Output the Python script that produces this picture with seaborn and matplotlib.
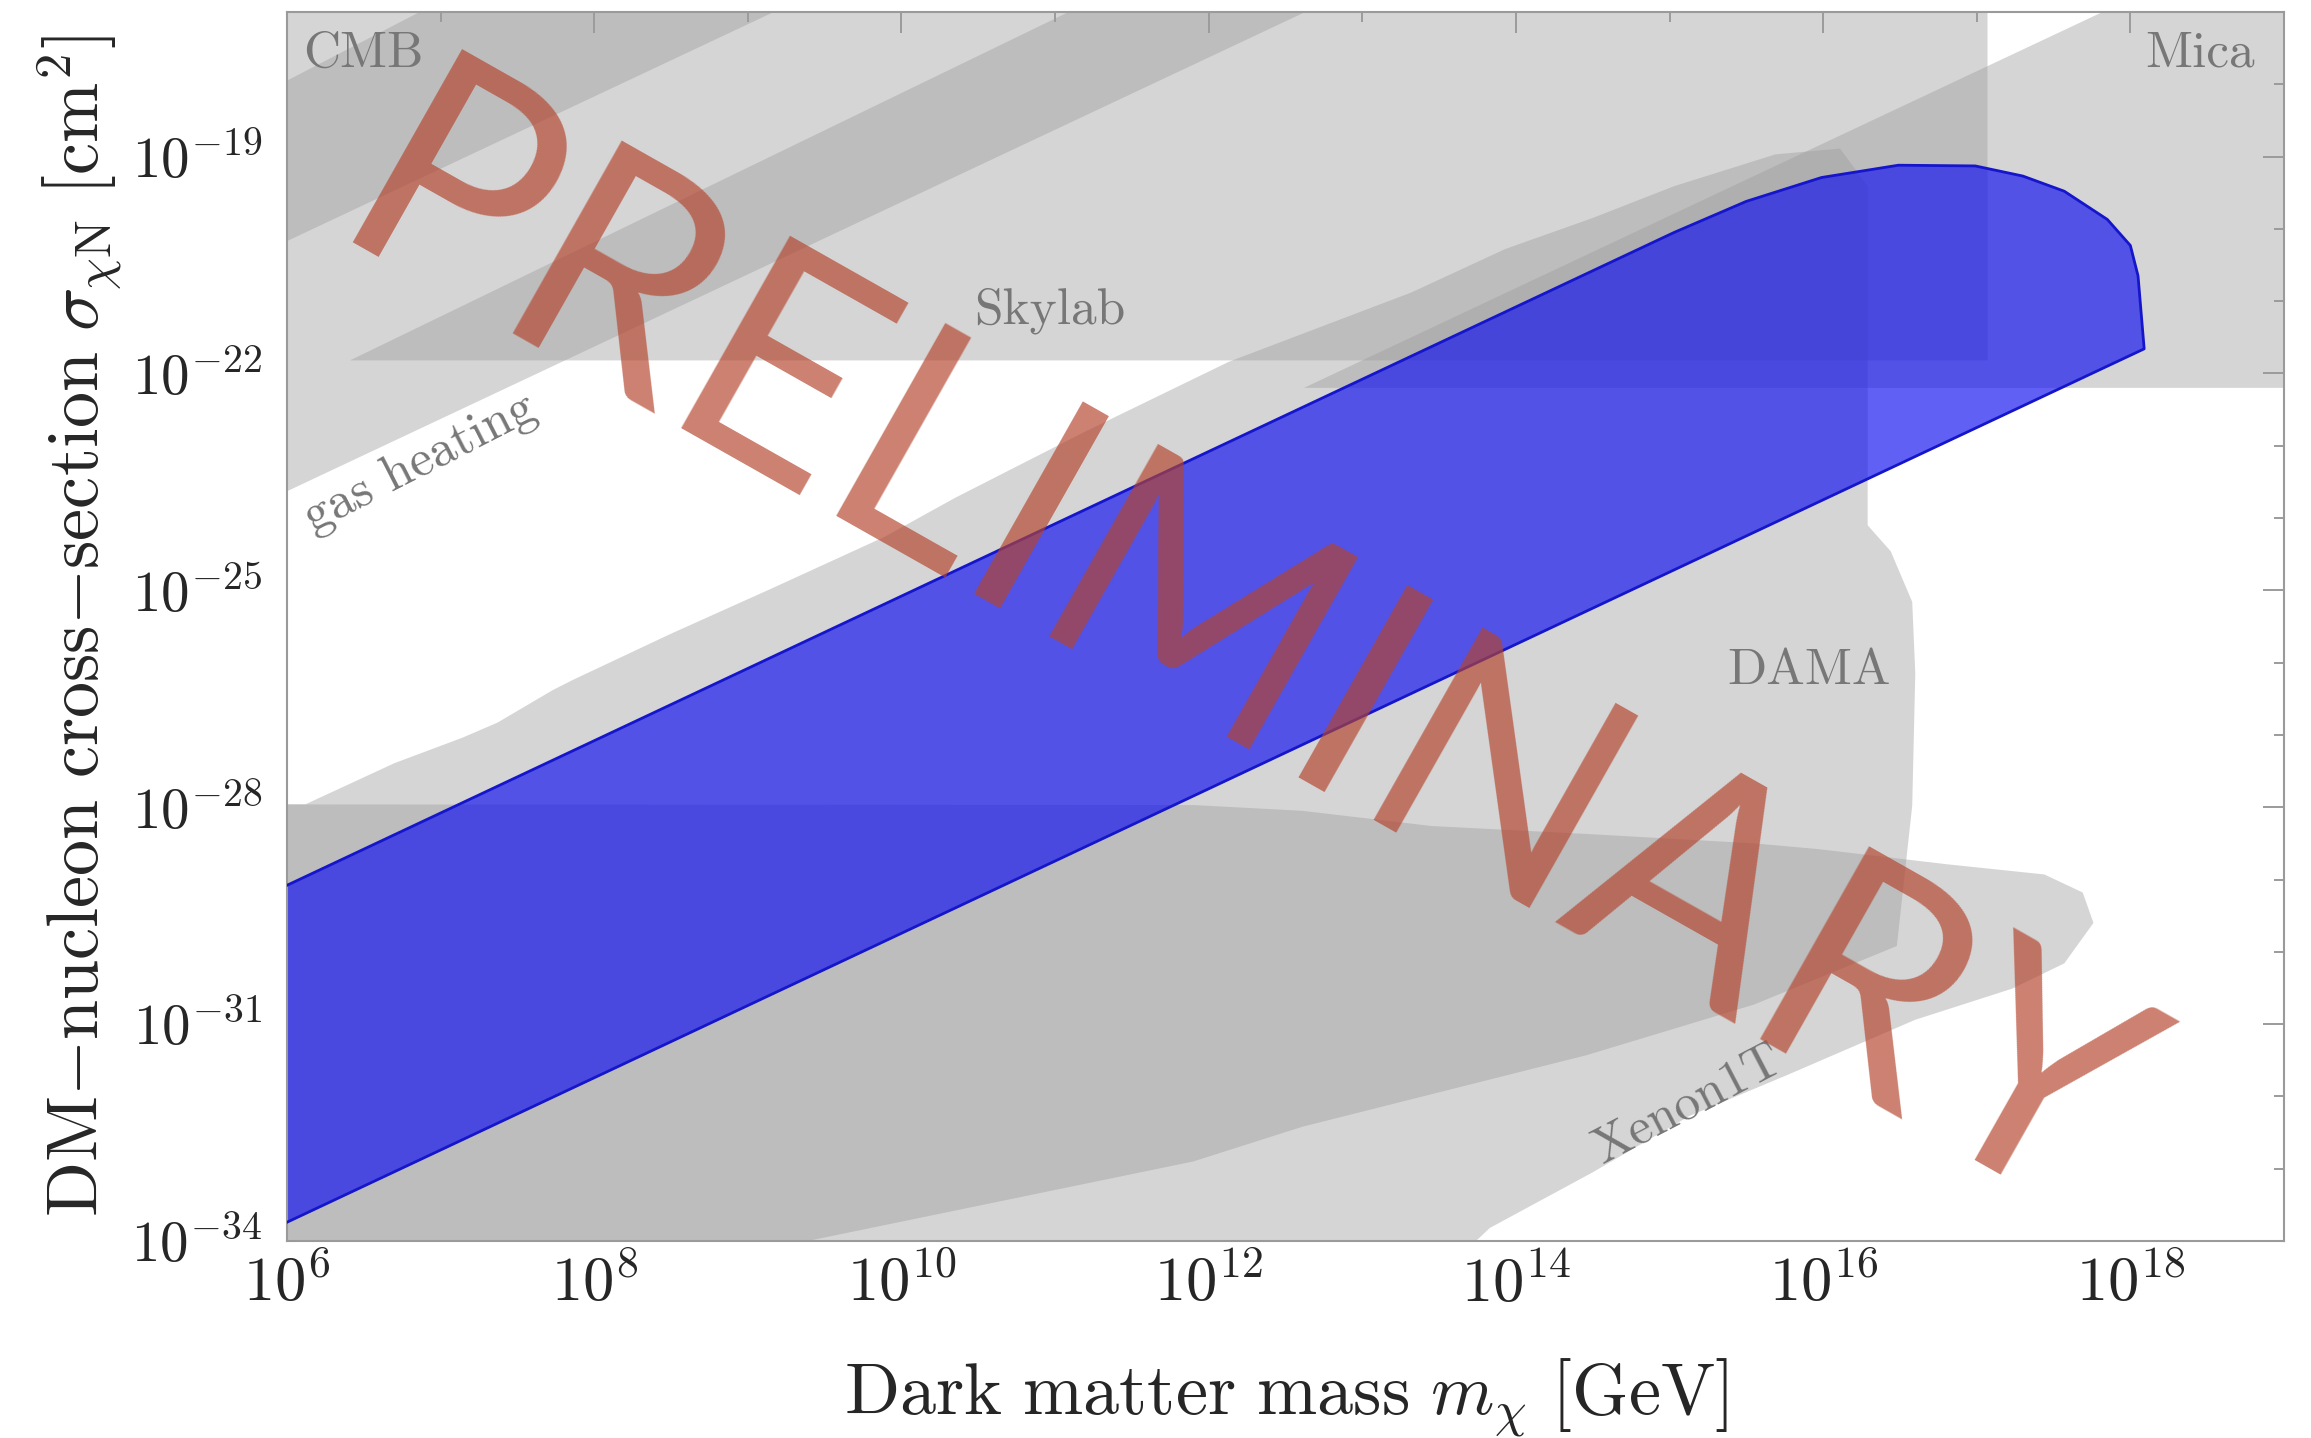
import matplotlib
matplotlib.use("Agg")
import matplotlib.pyplot as plt
import numpy as np
import seaborn as sns
from matplotlib.ticker import FixedLocator, NullFormatter, FuncFormatter

# ---------------- data (log10 of m/GeV and log10 of sigma/cm^2) ----------------
cmb_logm = [5.0, 11.0, 5.0]
cmb_logsig = [-21.17, -15.17, -15.17]

gas_logm = [5.0, 14.0, 8.11, 5.0]
gas_logsig = [-24.63, -15.63, -15.63, -19.05]

skylab_logm = [6.41, 12.06, 17.07, 17.07]
skylab_logsig = [-21.82, -16.0, -16.0, -21.82]

mica_logm = [12.62, 18.82, 20.0, 20.0]
mica_logsig = [-22.2, -16.0, -16.0, -22.2]

dama_logm = [5.0, 6.12, 6.70, 7.14, 7.37, 7.73, 7.86, 8.5, 9.16, 9.89, 10.35, 11.2,
             12.13, 13.32, 13.93, 14.5, 15.03, 15.69, 16.11, 16.29, 16.29, 16.44,
             16.58, 16.60, 16.58, 16.48, 15.55, 14.46, 12.61, 11.9, 9.39, 7.2, 5.0]
dama_logsig = [-27.96, -27.96, -27.39, -27.04, -26.83, -26.38, -26.24, -25.6, -24.97,
               -24.26, -23.72, -22.8, -21.84, -20.88, -20.28, -19.85, -19.41, -18.97,
               -18.89, -19.41, -24.1, -24.46, -25.16, -26.15, -27.98, -29.92, -30.73,
               -31.43, -32.42, -32.9, -34.0, -35.0, -35.0]

xenon_logm = [5.0, 11.9, 12.61, 13.45, 14.46, 15.55, 15.97, 16.81, 17.44, 17.69, 17.76,
              17.57, 17.23, 16.6, 15.76, 15.13, 14.5, 13.83, 13.74, 13.6, 5.0]
xenon_logsig = [-27.96, -27.97, -28.05, -28.26, -28.37, -28.5, -28.58, -28.79, -28.93,
                -29.18, -29.6, -30.16, -30.51, -30.94, -31.71, -32.27, -33.05, -33.82,
                -34.0, -35.0, -35.0]

signal_upper_logm = [5.5, 15.03, 15.5, 15.99, 16.49, 16.99, 17.3, 17.57, 17.85, 18.0, 18.05, 18.09]
signal_upper_logsig = [-29.58, -20.05, -19.62, -19.29, -19.12, -19.13, -19.27, -19.48, -19.87,
                       -20.23, -20.65, -21.66]
signal_lower_logm = [18.09, 5.5]
signal_lower_logsig = [-21.66, -34.24]

x_major_exp = [6, 8, 10, 12, 14, 16, 18]
x_minor_exp = [7, 9, 11, 13, 15, 17, 19]
y_major_exp = [-34, -31, -28, -25, -22, -19]
y_minor_exp = [-33, -32, -30, -29, -27, -26, -24, -23, -21, -20, -18, -17]
xlim_exp = (6, 19)
ylim_exp = (-34, -17)

# ---------------- style ----------------
sns.set_style("white")
plt.rcParams.update({
    "mathtext.fontset": "cm",
    "axes.unicode_minus": True,
})

fig = plt.figure(figsize=(23.11, 14.38), dpi=100)
ax = fig.add_axes([0.1242, 0.137, 0.9883 - 0.1242, 0.9917 - 0.137])
ax.set_xscale("log")
ax.set_yscale("log")

gray = (156 / 255, 156 / 255, 156 / 255)
galpha = 0.415

def to_lin(v):
    return 10.0 ** np.asarray(v, dtype=float)

for mx, sy in [(cmb_logm, cmb_logsig), (gas_logm, gas_logsig),
               (skylab_logm, skylab_logsig), (mica_logm, mica_logsig),
               (dama_logm, dama_logsig), (xenon_logm, xenon_logsig)]:
    ax.fill(to_lin(mx), to_lin(sy), color=gray, alpha=galpha, lw=0, zorder=1)

band_x = signal_upper_logm + signal_lower_logm
band_y = signal_upper_logsig + signal_lower_logsig
ax.fill(to_lin(band_x), to_lin(band_y), color=(16 / 255, 16 / 255, 241 / 255),
        alpha=0.667, lw=0, zorder=2)
sns.lineplot(x=to_lin(band_x), y=to_lin(band_y), sort=False, estimator=None,
             color="#1515cc", lw=2.0, ax=ax, zorder=3)

ax.set_xlim(to_lin(xlim_exp[0]), to_lin(xlim_exp[1]))
ax.set_ylim(to_lin(ylim_exp[0]), to_lin(ylim_exp[1]))

ax.xaxis.set_major_locator(FixedLocator(to_lin(x_major_exp)))
ax.xaxis.set_minor_locator(FixedLocator(to_lin(x_minor_exp)))
ax.yaxis.set_major_locator(FixedLocator(to_lin(y_major_exp)))
ax.yaxis.set_minor_locator(FixedLocator(to_lin(y_minor_exp)))
fmt = FuncFormatter(lambda v, p: r"$10^{%d}$" % int(round(np.log10(v))))
ax.xaxis.set_major_formatter(fmt)
ax.yaxis.set_major_formatter(fmt)
ax.xaxis.set_minor_formatter(NullFormatter())
ax.yaxis.set_minor_formatter(NullFormatter())

ax.tick_params(which="both", direction="in", top=True, right=True,
               color="#8a8a8a", width=1.2)
ax.tick_params(which="major", length=15)
ax.tick_params(axis="x", which="major", labelsize=45, pad=10)
ax.tick_params(axis="y", which="major", labelsize=41, pad=18)
ax.tick_params(which="minor", length=7.5)
for s in ax.spines.values():
    s.set_color("#9a9a9a")
    s.set_linewidth(1.5)

ax.set_xlabel(r"$\mathrm{Dark\ matter\ mass}\ m_\chi\ [\mathrm{GeV}]$", fontsize=52, labelpad=30)
ax.set_ylabel(r"$\mathrm{DM}{-}\mathrm{nucleon\ cross}{-}\mathrm{section}\ \sigma_{\chi\mathrm{N}}\ [\mathrm{cm}^2]$",
              fontsize=52, labelpad=5)

lab = dict(transform=ax.transAxes, fontsize=37, family="cmr10", color="#777777", zorder=5)
ax.text(0.008, 0.985, "CMB", ha="left", va="top", **lab)
ax.text(0.9855, 0.985, "Mica", ha="right", va="top", **lab)
ax.text(0.382, 0.776, "Skylab", ha="center", va="top", **lab)
ax.text(0.0666, 0.632, "gas heating", ha="center", va="center", rotation=27,
        rotation_mode="anchor", **lab)
ax.text(0.762, 0.464, "DAMA", ha="center", va="center", **lab)
ax.text(0.7015, 0.111, "Xenon1T", ha="center", va="center", rotation=27.5,
        rotation_mode="anchor", **lab)

ax.text(0.455, 0.412, "PRELIMINARY", transform=ax.transAxes, rotation=-29.5,
        rotation_mode="anchor", ha="center", va="baseline", fontsize=222,
        family="Lato", color="#b4442d", alpha=0.68, zorder=10)

fig.savefig("out.png", dpi=100)
